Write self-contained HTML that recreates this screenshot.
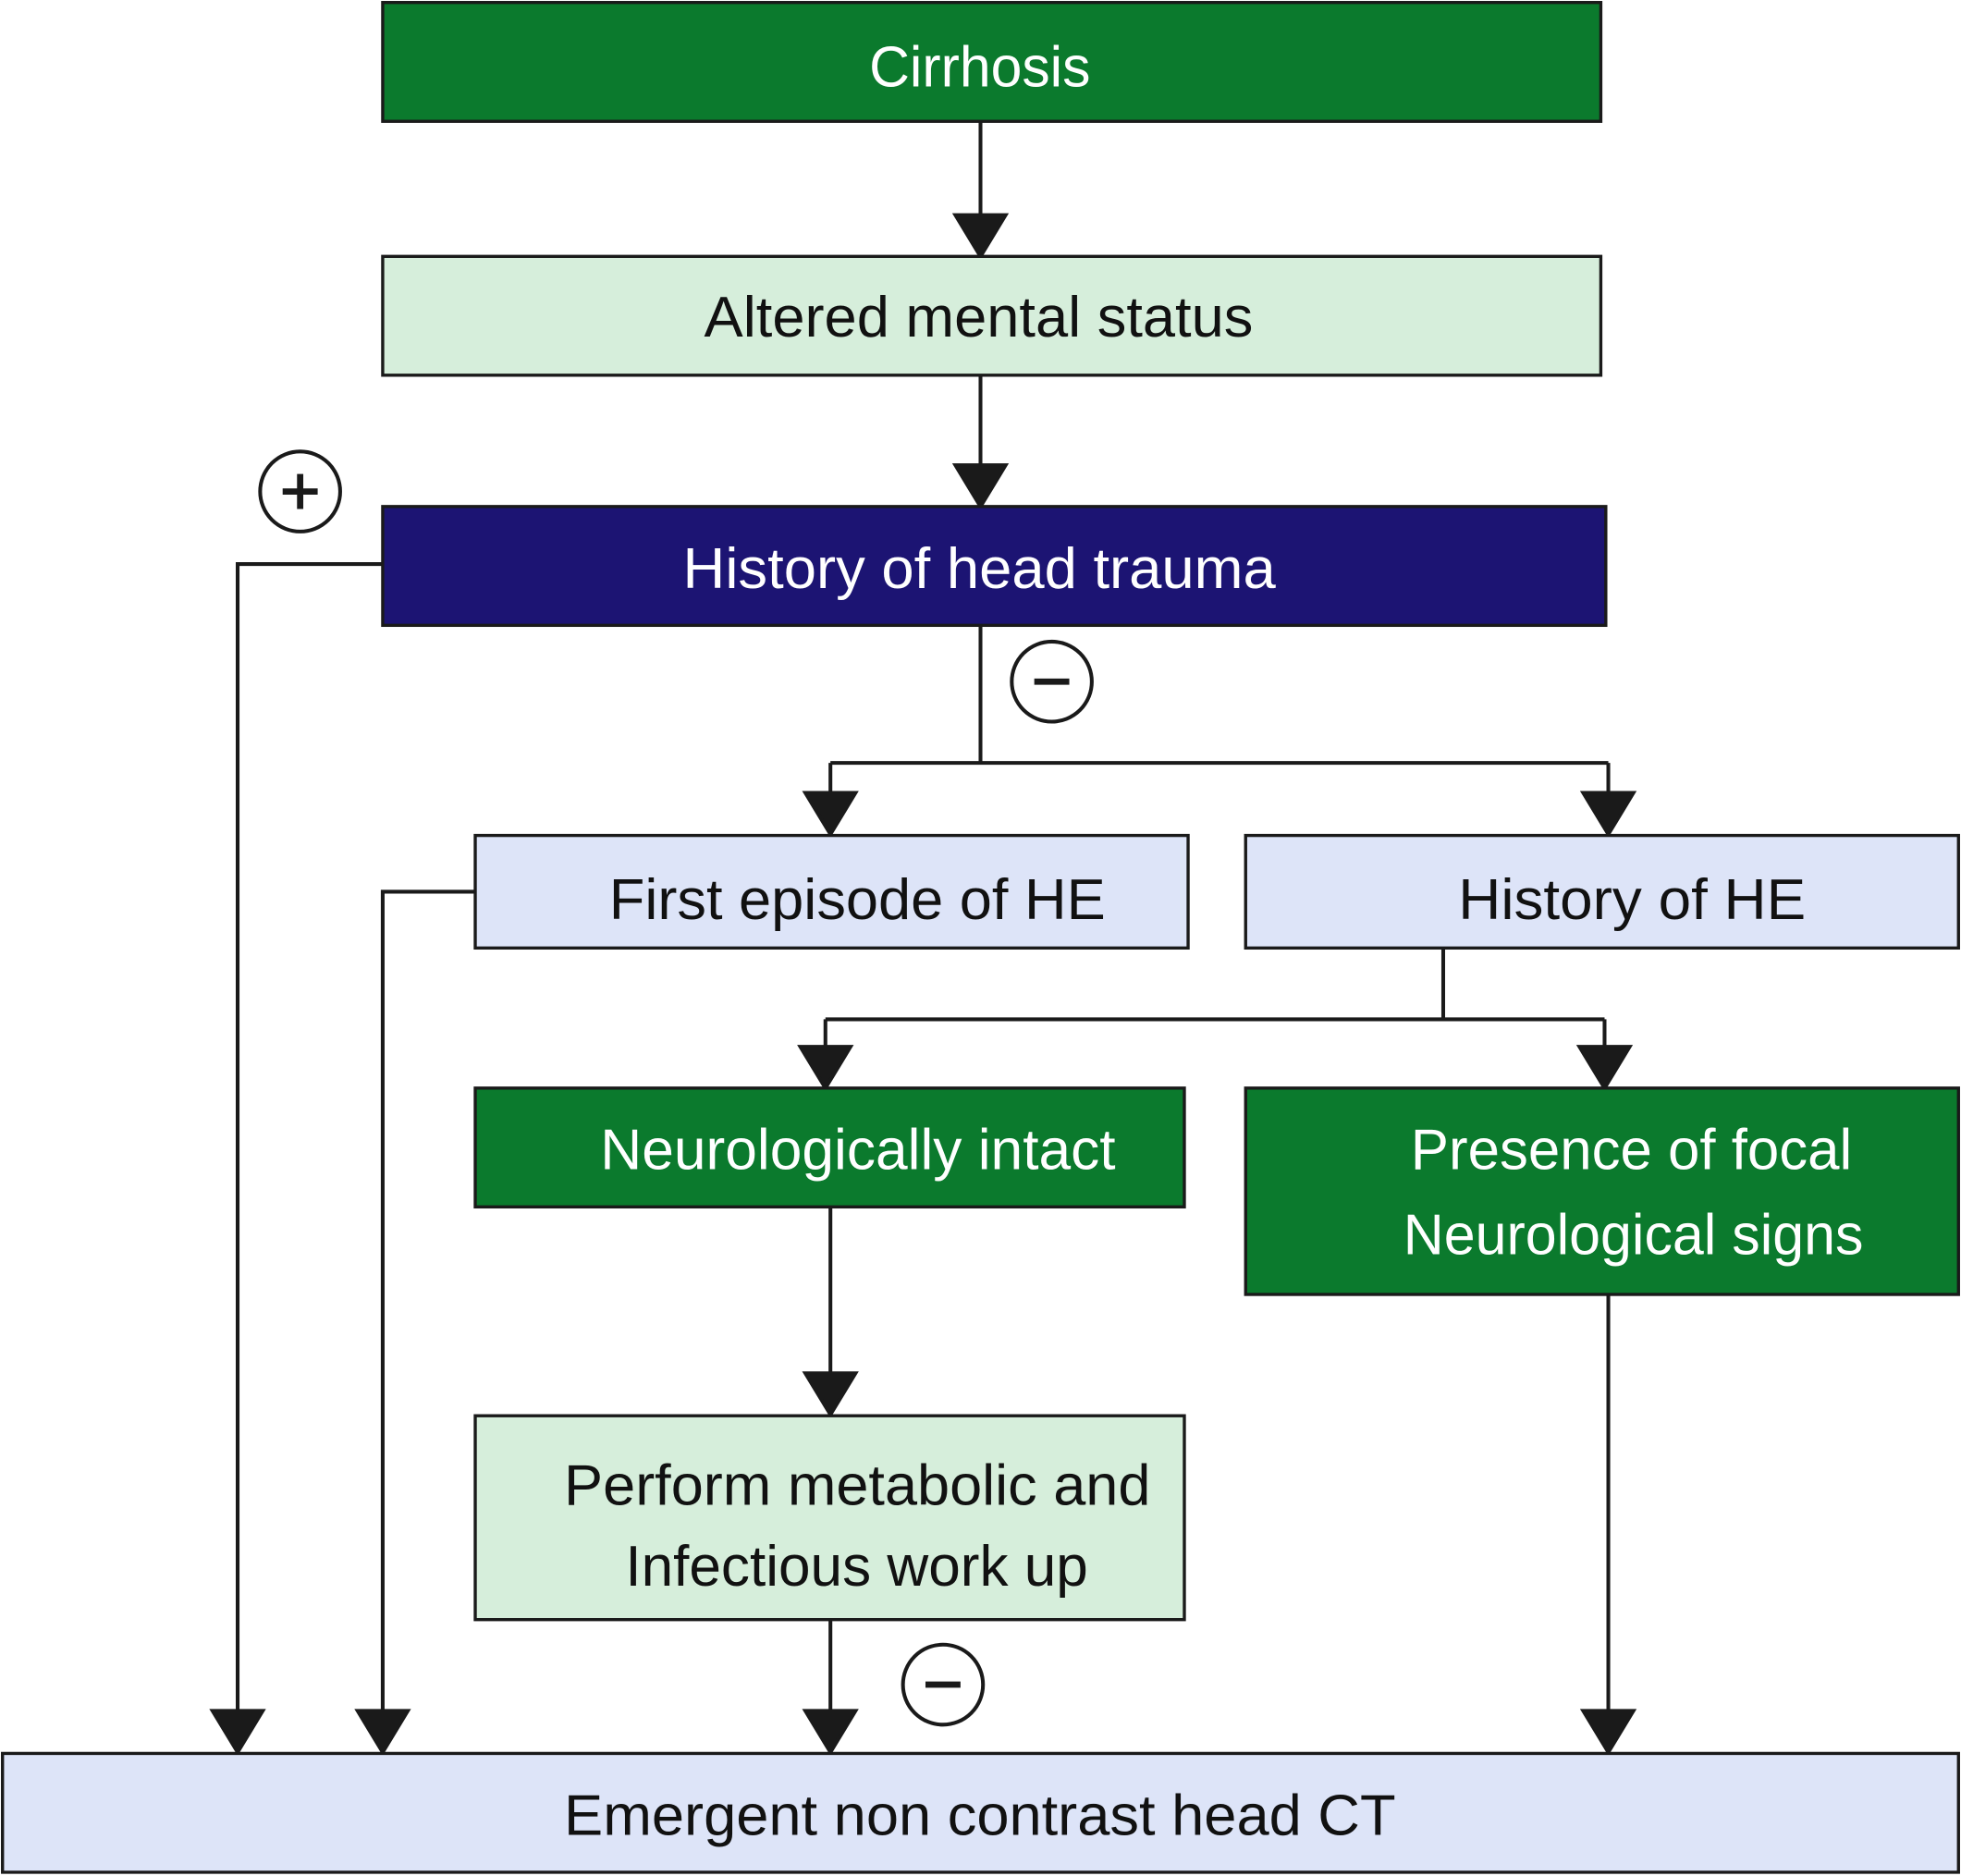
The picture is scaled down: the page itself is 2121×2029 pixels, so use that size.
<!DOCTYPE html>
<html><head><meta charset="utf-8"><style>html,body{margin:0;padding:0;background:#fff}svg{display:block}</style></head>
<body>
<svg width="2121" height="2029" viewBox="0 0 1568 1500" xmlns="http://www.w3.org/2000/svg" font-family="Liberation Sans, sans-serif" font-size="46">
<defs>
<marker id="a" markerWidth="40" markerHeight="34" refX="20" refY="34" orient="auto-start-reverse" markerUnits="userSpaceOnUse" viewBox="0 0 40 34"><path d="M0,0 L40,0 L20,34 Z" fill="#1a1a1a"/></marker>
</defs>
<g stroke="#1a1a1a" stroke-width="3" fill="none">
<path d="M784,97 V172" /><path d="M764,172 h40 l-20,33z" fill="#1a1a1a"/>
<path d="M784,300 V372" /><path d="M764,372 h40 l-20,33z" fill="#1a1a1a"/>
<path d="M306,451 H190 V1368" /><path d="M170,1368 h40 l-20,33z" fill="#1a1a1a"/>
<path d="M784,500 V610 M664,610 H1286 M664,610 V634 M1286,610 V634" />
<path d="M644,634 h40 l-20,33z M1266,634 h40 l-20,33z" fill="#1a1a1a"/>
<path d="M380,713 H306 V1368" /><path d="M286,1368 h40 l-20,33z" fill="#1a1a1a"/>
<path d="M1154,758 V815 M660,815 H1283 M660,815 V837 M1283,815 V837" />
<path d="M640,837 h40 l-20,33z M1263,837 h40 l-20,33z" fill="#1a1a1a"/>
<path d="M664,965 V1098" /><path d="M644,1098 h40 l-20,33z" fill="#1a1a1a"/>
<path d="M664,1295 V1368" /><path d="M644,1368 h40 l-20,33z" fill="#1a1a1a"/>
<path d="M1286,1035 V1368" /><path d="M1266,1368 h40 l-20,33z" fill="#1a1a1a"/>
<circle cx="240" cy="393" r="32" fill="#fff"/>
<circle cx="841" cy="545" r="32" fill="#fff"/>
<circle cx="754" cy="1347" r="32" fill="#fff"/>
</g>
<g stroke="#1a1a1a" stroke-width="5">
<path d="M226,393 h28 M240,379 v28 M827,545 h28 M740,1347 h28"/>
</g>
<g stroke="#1a1a1a" stroke-width="2.5">
<rect x="306" y="2" width="974" height="95" fill="#0b7a2d"/>
<rect x="306" y="205" width="974" height="95" fill="#d6eedb"/>
<rect x="306" y="405" width="978" height="95" fill="#1c1473"/>
<rect x="380" y="668" width="570" height="90" fill="#dde4f8"/>
<rect x="996" y="668" width="570" height="90" fill="#dde4f8"/>
<rect x="380" y="870" width="567" height="95" fill="#0b7a2d"/>
<rect x="996" y="870" width="570" height="165" fill="#0b7a2d"/>
<rect x="380" y="1132" width="567" height="163" fill="#d6eedb"/>
<rect x="2" y="1402" width="1564" height="95" fill="#dde4f8"/>
</g>
<g lengthAdjust="spacingAndGlyphs">
<text x="695" y="69" fill="#fff" textLength="177" lengthAdjust="spacingAndGlyphs">Cirrhosis</text>
<text x="563" y="269" fill="#111" textLength="439" lengthAdjust="spacingAndGlyphs">Altered mental status</text>
<text x="546" y="470" fill="#fff" textLength="474" lengthAdjust="spacingAndGlyphs">History of head trauma</text>
<text x="487" y="735" fill="#111" textLength="397" lengthAdjust="spacingAndGlyphs">First episode of HE</text>
<text x="1166" y="735" fill="#111" textLength="278" lengthAdjust="spacingAndGlyphs">History of HE</text>
<text x="480" y="935" fill="#fff" textLength="412" lengthAdjust="spacingAndGlyphs">Neurologically intact</text>
<text x="1128" y="935" fill="#fff" textLength="353" lengthAdjust="spacingAndGlyphs">Presence of focal</text>
<text x="1122" y="1003" fill="#fff" textLength="368" lengthAdjust="spacingAndGlyphs">Neurological signs</text>
<text x="451" y="1203" fill="#111" textLength="469" lengthAdjust="spacingAndGlyphs">Perform metabolic and</text>
<text x="500" y="1268" fill="#111" textLength="370" lengthAdjust="spacingAndGlyphs">Infectious work up</text>
<text x="451" y="1467" fill="#111" textLength="665" lengthAdjust="spacingAndGlyphs">Emergent non contrast head CT</text>
</g>
</svg>
</body></html>
